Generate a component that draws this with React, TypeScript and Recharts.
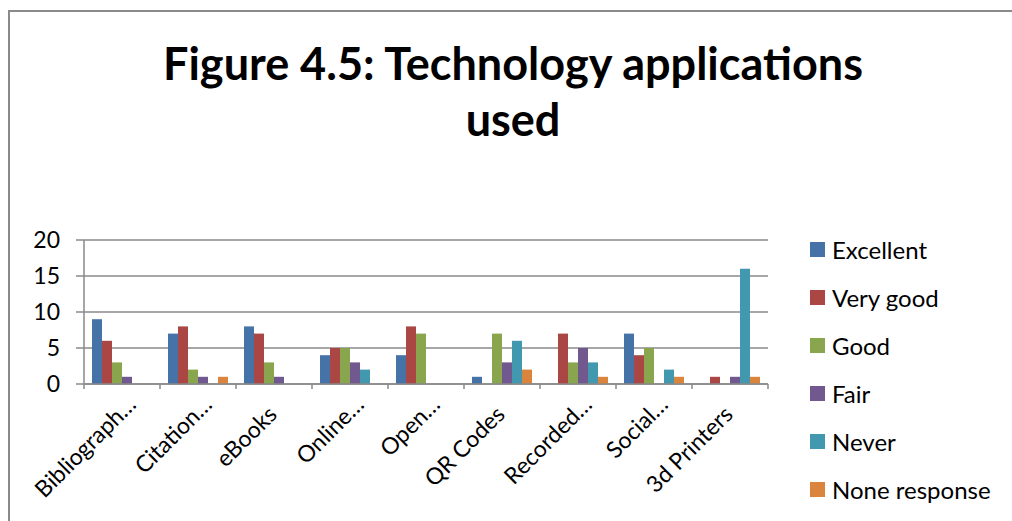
import React from 'react';
import { BarChart, Bar, XAxis, YAxis, CartesianGrid, Legend } from 'recharts';

const categories = ['Bibliograph…', 'Citation…', 'eBooks', 'Online…', 'Open…', 'QR Codes', 'Recorded…', 'Social…', '3d Printers'];
const excellent = [9, 7, 8, 4, 4, 1, 0, 7, 0];
const veryGood = [6, 8, 7, 5, 8, 0, 7, 4, 1];
const good = [3, 2, 3, 5, 7, 7, 3, 5, 0];
const fair = [1, 1, 1, 3, 0, 3, 5, 0, 1];
const never = [0, 0, 0, 2, 0, 6, 3, 2, 16];
const noneResponse = [0, 1, 0, 0, 0, 2, 1, 1, 1];
const yTicks = [0, 5, 10, 15, 20];

const seriesNames = ['Excellent', 'Very good', 'Good', 'Fair', 'Never', 'None response'];
const seriesValues = [excellent, veryGood, good, fair, never, noneResponse];
const seriesColors = ['#4572A7', '#AA4643', '#89A54E', '#71588F', '#4198AF', '#DB843D'];
const seriesKeys = ['s0', 's1', 's2', 's3', 's4', 's5'];

const data = categories.map((c, i) => {
  const row: any = { name: c };
  seriesKeys.forEach((k, j) => { row[k] = seriesValues[j][i]; });
  return row;
});

const FONT = 'Lato, "Open Sans", sans-serif';
const GRID = '#8a8a8a';
const PLOT_LEFT = 84;
const PLOT_RIGHT = 768;
const HALF_BAND = (PLOT_RIGHT - PLOT_LEFT) / categories.length / 2;

const XTick = (props: any) => {
  const { x, y, payload, index } = props;
  const label: string = payload.value;
  const truncated = label.endsWith('…');
  const u = truncated ? -1 : -16;
  const v = truncated ? 23 : 22;
  const axisY = y - 5;
  return (
    <g>
      <line x1={x - HALF_BAND} y1={axisY} x2={x - HALF_BAND} y2={axisY + 5} stroke={GRID} strokeWidth={1.5} />
      {index === categories.length - 1 && (
        <line x1={x + HALF_BAND} y1={axisY} x2={x + HALF_BAND} y2={axisY + 5} stroke={GRID} strokeWidth={1.5} />
      )}
      <g transform={`translate(${x},${y}) rotate(-45)`}>
        <text x={u} y={v} textAnchor="end" fontFamily={FONT} fontSize={23} fill="#000">{label}</text>
      </g>
    </g>
  );
};

const LegendContent = () => (
  <div style={{ fontFamily: FONT, fontSize: 24, color: '#000' }}>
    {seriesNames.map((n, i) => (
      <div key={n} style={{ height: 48, display: 'flex', alignItems: 'center' }}>
        <span style={{ display: 'inline-block', width: 15, height: 15, background: seriesColors[i], marginRight: 7 }} />
        <span>{n}</span>
      </div>
    ))}
  </div>
);

export default function App() {
  return (
    <div style={{ position: 'absolute', left: 0, top: 0, width: 1012, height: 521, background: '#fff', overflow: 'hidden' }}>
      <div style={{ position: 'absolute', left: 8, top: 10, width: 1010, height: 520, borderTop: `2px solid ${GRID}`, borderLeft: `2px solid ${GRID}` }} />
      <div style={{ position: 'absolute', left: 13, top: 35, width: 1000, textAlign: 'center', fontFamily: FONT, fontWeight: 700, fontSize: 45, lineHeight: '56px', color: '#000' }}>
        <div>Figure 4.5: Technology applications</div>
        <div>used</div>
      </div>
      <div style={{ position: 'absolute', left: 0, top: 0 }}>
        <BarChart width={1012} height={521} data={data} margin={{ top: 240, right: 244, bottom: 0, left: 0 }} barCategoryGap={8} barGap={0}>
          <CartesianGrid vertical={false} stroke={GRID} strokeWidth={1.5} />
          <XAxis dataKey="name" interval={0} tick={<XTick />} tickLine={false} tickSize={5} tickMargin={0} axisLine={{ stroke: GRID, strokeWidth: 1.5 }} height={137} />
          <YAxis domain={[0, 20]} ticks={yTicks} width={84} tickSize={8} tickMargin={16} tick={{ fontFamily: FONT, fontSize: 23, fill: '#000' }} tickLine={{ stroke: GRID, strokeWidth: 1.5 }} axisLine={{ stroke: GRID, strokeWidth: 1.5 }} />
          <Legend content={<LegendContent />} layout="vertical" align="center" verticalAlign="middle" wrapperStyle={{ position: 'absolute', left: 810, top: 225, width: 200 }} />
          {seriesKeys.map((k, i) => (
            <Bar key={k} dataKey={k} name={seriesNames[i]} fill={seriesColors[i]} isAnimationActive={false} />
          ))}
        </BarChart>
      </div>
    </div>
  );
}
